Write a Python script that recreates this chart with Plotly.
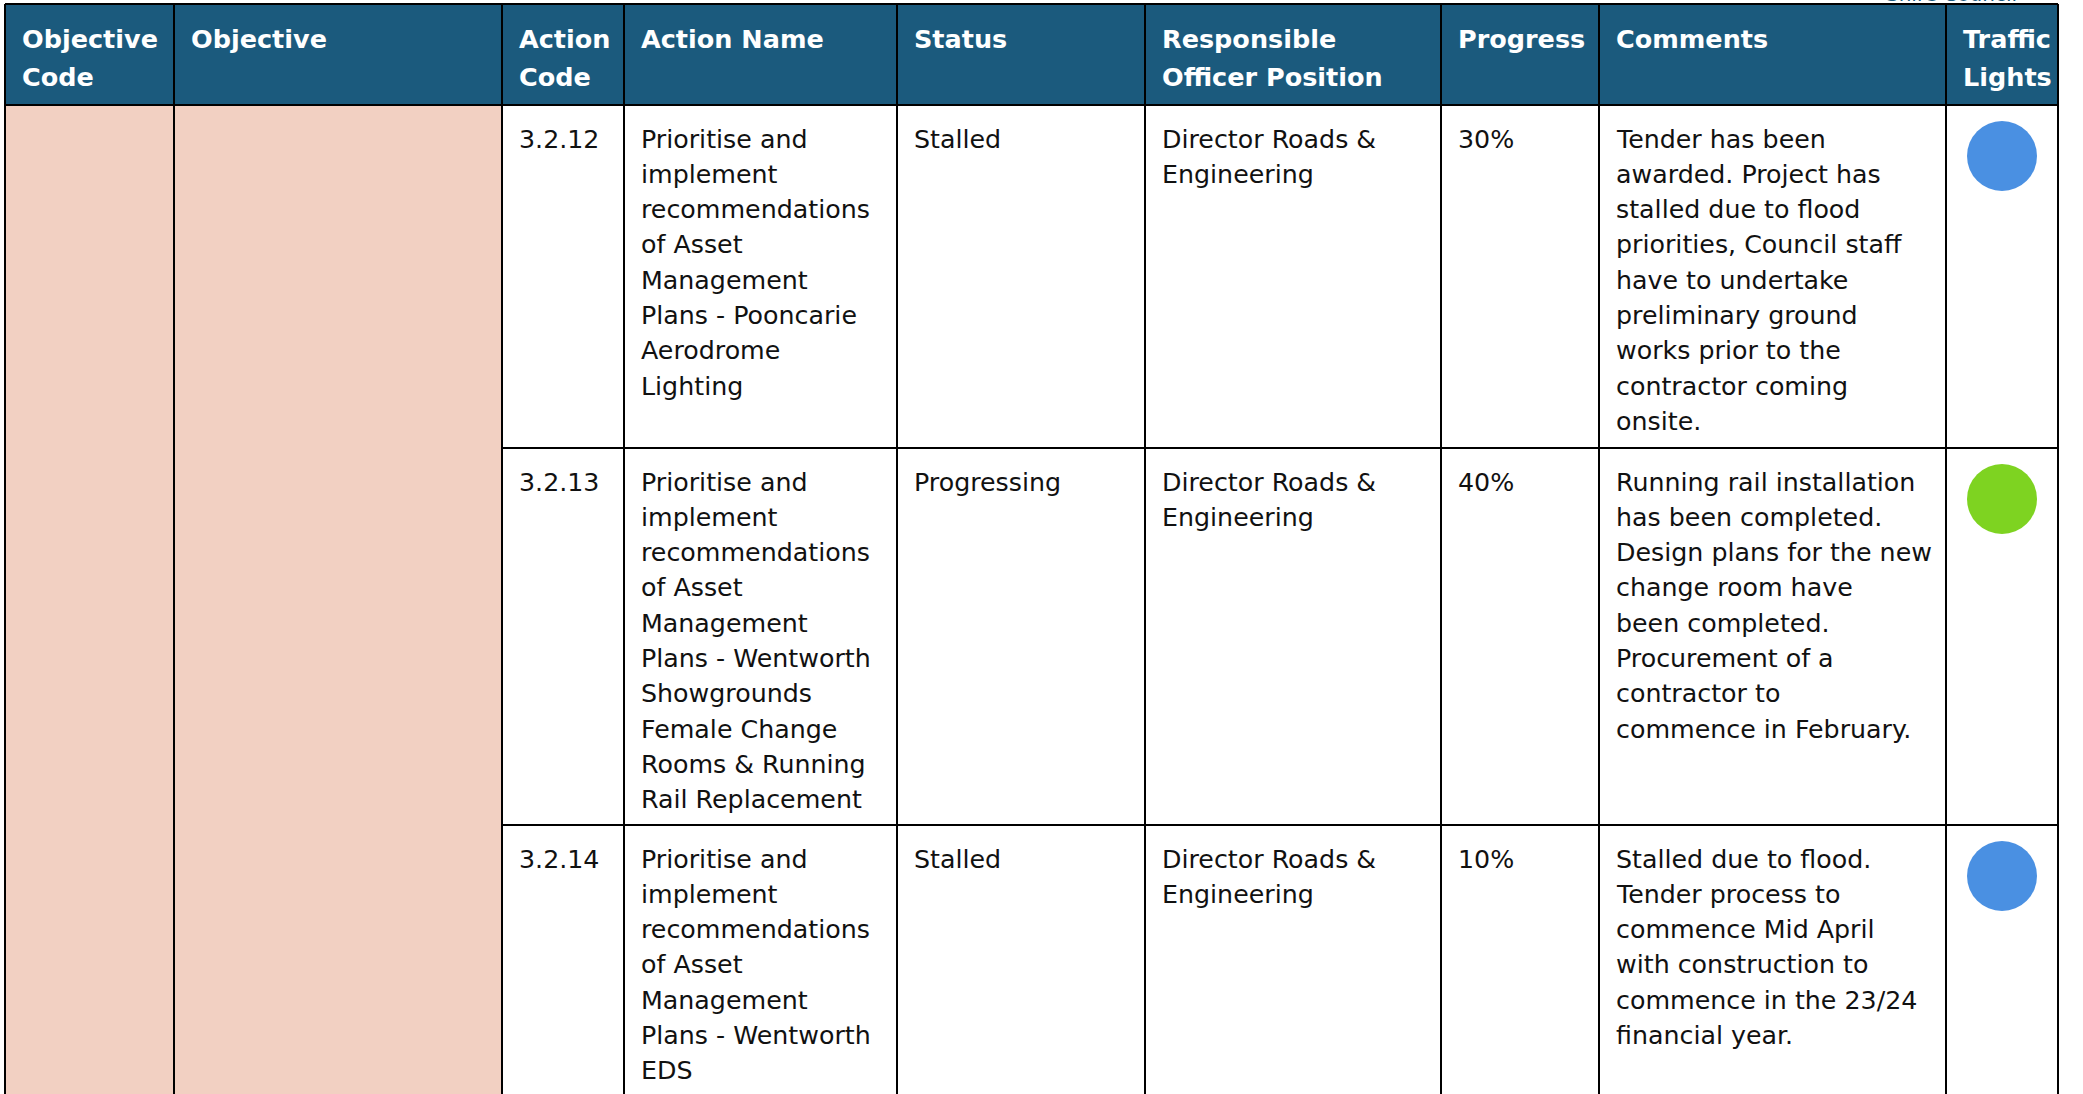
import plotly.graph_objects as go

# ---------------- data ----------------
header_labels = [
    ["Objective", "Code"],
    ["Objective"],
    ["Action", "Code"],
    ["Action Name"],
    ["Status"],
    ["Responsible", "Officer Position"],
    ["Progress"],
    ["Comments"],
    ["Traffic", "Lights"],
]

action_codes = ["3.2.12", "3.2.13", "3.2.14"]

action_names = [
    ["Prioritise and", "implement", "recommendations", "of Asset", "Management",
     "Plans - Pooncarie", "Aerodrome", "Lighting"],
    ["Prioritise and", "implement", "recommendations", "of Asset", "Management",
     "Plans - Wentworth", "Showgrounds", "Female Change", "Rooms & Running",
     "Rail Replacement"],
    ["Prioritise and", "implement", "recommendations", "of Asset", "Management",
     "Plans - Wentworth", "EDS"],
]

statuses = ["Stalled", "Progressing", "Stalled"]

officers = [
    ["Director Roads &", "Engineering"],
    ["Director Roads &", "Engineering"],
    ["Director Roads &", "Engineering"],
]

progress = [30, 40, 10]

comments = [
    ["Tender has been", "awarded. Project has", "stalled due to flood",
     "priorities, Council staff", "have to undertake", "preliminary ground",
     "works prior to the", "contractor coming", "onsite."],
    ["Running rail installation", "has been completed.", "Design plans for the new",
     "change room have", "been completed.", "Procurement of a", "contractor to",
     "commence in February."],
    ["Stalled due to flood.", "Tender process to", "commence Mid April",
     "with construction to", "commence in the 23/24", "financial year."],
]

traffic_lights = ["blue", "green", "blue"]

page_heading = "Shire Council"

# ---------------- layout constants ----------------
W, H = 2083, 1094
col_edges = [5, 174, 502, 624, 897, 1145, 1441, 1599, 1946, 2058]
header_top, header_bottom = 4, 105
row_tops = [105, 448, 825]
row_bottoms = [448, 825, H + 5]
pad_x = 15
first_line_off = 34
body_line_h = 35.3
header_line1, header_line_h = 38.5, 38.5

HEADER_BG = "#1b5a7d"
SALMON = "#f2d0c2"
LIGHT_COLORS = {"blue": "#4a90e2", "green": "#7ed321", "red": "#e24a4a"}
FONT = "DejaVu Sans"
BODY_SIZE = 25.3
HEAD_SIZE = 25.5

shapes = []
annotations = []

# header background
shapes.append(dict(type="rect", xref="x", yref="y", x0=col_edges[0], x1=col_edges[-1],
                   y0=header_top, y1=header_bottom, fillcolor=HEADER_BG, line_width=0,
                   layer="below"))
# merged salmon objective columns
shapes.append(dict(type="rect", xref="x", yref="y", x0=col_edges[0], x1=col_edges[2],
                   y0=header_bottom, y1=H + 5, fillcolor=SALMON, line_width=0,
                   layer="below"))

LINE = dict(color="#000000", width=2)
# vertical borders
for x in col_edges:
    shapes.append(dict(type="line", xref="x", yref="y", x0=x, x1=x,
                       y0=header_top, y1=H + 5, line=LINE))
# horizontal borders
shapes.append(dict(type="line", xref="x", yref="y", x0=col_edges[0], x1=col_edges[-1],
                   y0=header_top, y1=header_top, line=LINE))
shapes.append(dict(type="line", xref="x", yref="y", x0=col_edges[0], x1=col_edges[-1],
                   y0=header_bottom, y1=header_bottom, line=LINE))
for yb in row_bottoms[:-1]:
    shapes.append(dict(type="line", xref="x", yref="y", x0=col_edges[2], x1=col_edges[-1],
                       y0=yb, y1=yb, line=LINE))


def add_lines(lines, col, y0, lh, size, color, bold=False):
    for i, t in enumerate(lines):
        txt = f"<b>{t}</b>" if bold else t
        annotations.append(dict(
            x=col_edges[col] + pad_x, y=y0 + i * lh, xref="x", yref="y",
            text=txt, showarrow=False, xanchor="left", yanchor="middle",
            font=dict(family=FONT, size=size, color=color)))


# header text
for c, lab in enumerate(header_labels):
    add_lines(lab, c, header_line1, header_line_h, HEAD_SIZE, "#ffffff", bold=True)

# body text
for r in range(len(action_codes)):
    y0 = row_tops[r] + first_line_off
    add_lines([action_codes[r]], 2, y0, body_line_h, BODY_SIZE, "#111111")
    add_lines(action_names[r], 3, y0, body_line_h, BODY_SIZE, "#111111")
    add_lines([statuses[r]], 4, y0, body_line_h, BODY_SIZE, "#111111")
    add_lines(officers[r], 5, y0, body_line_h, BODY_SIZE, "#111111")
    add_lines([f"{progress[r]}%"], 6, y0, body_line_h, BODY_SIZE, "#111111")
    add_lines(comments[r], 7, y0, body_line_h, BODY_SIZE, "#111111")

# page heading cut off at the top edge (as in the reference)
annotations.append(dict(x=1951, y=8, xref="x", yref="y", text=page_heading,
                        showarrow=False, xanchor="center", yanchor="bottom",
                        font=dict(family=FONT, size=20, color=HEADER_BG)))

# traffic lights
light_x = [(col_edges[8] + col_edges[9]) / 2] * len(traffic_lights)
light_y = [t + 51 for t in row_tops]
fig = go.Figure()
fig.add_trace(go.Scatter(
    x=light_x, y=light_y, mode="markers",
    marker=dict(size=70, color=[LIGHT_COLORS[c] for c in traffic_lights], line_width=0),
    hoverinfo="skip", showlegend=False))

fig.update_layout(
    width=W, height=H, margin=dict(l=0, r=0, t=0, b=0),
    paper_bgcolor="#ffffff", plot_bgcolor="#ffffff",
    xaxis=dict(range=[0, W], visible=False, fixedrange=True),
    yaxis=dict(range=[H, 0], visible=False, fixedrange=True),
    shapes=shapes, annotations=annotations, showlegend=False,
)

fig.write_html(
    "out.html",
    config={"displayModeBar": False},
    post_script="document.body.style.margin='0';document.body.style.overflow='hidden';",
)
